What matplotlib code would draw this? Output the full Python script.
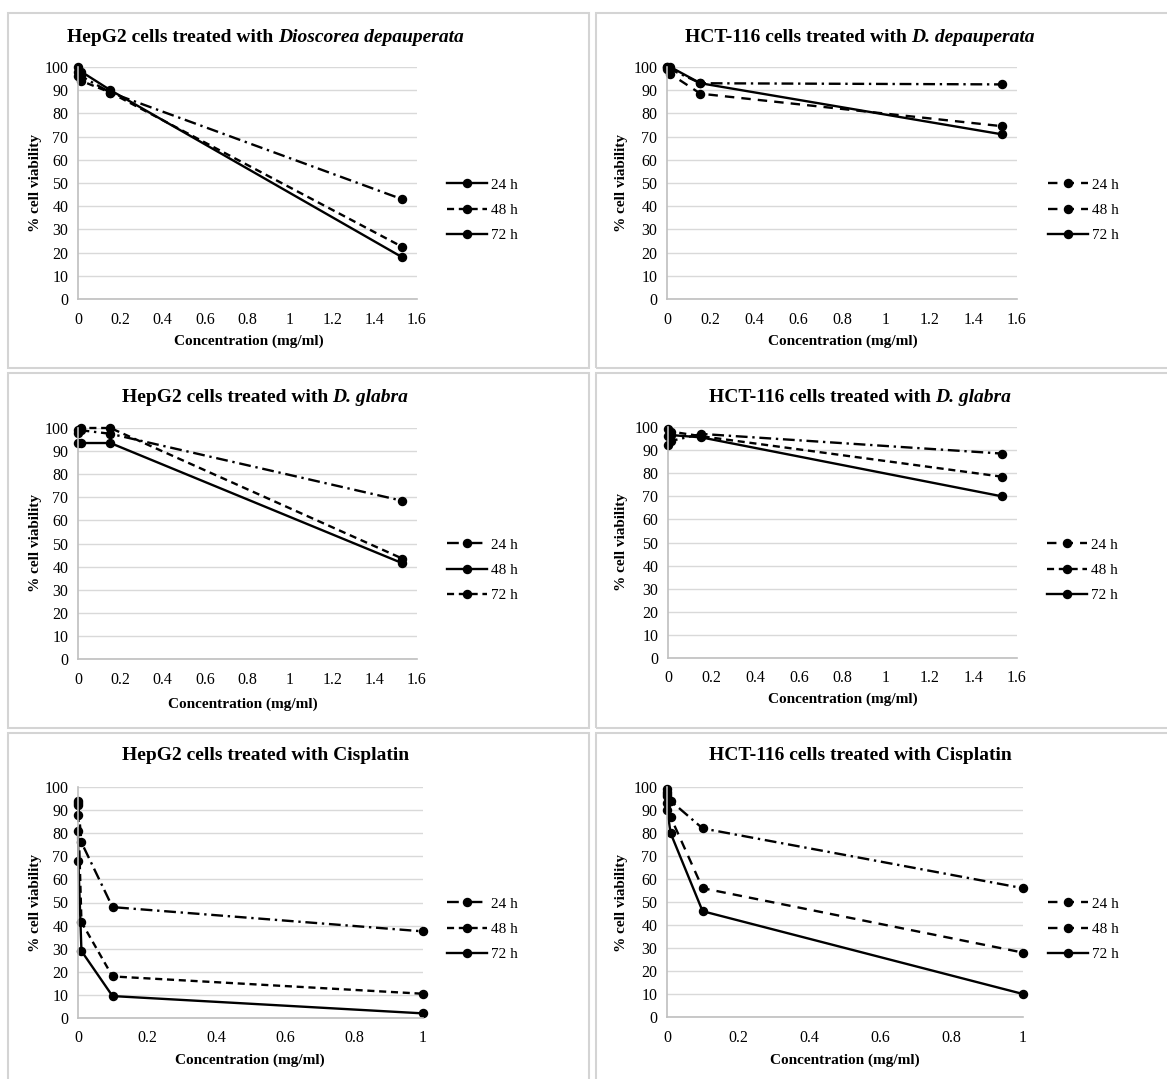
import matplotlib
matplotlib.use("Agg")
import matplotlib.pyplot as plt
from matplotlib.lines import Line2D
from matplotlib.patches import Rectangle
from matplotlib.ticker import FuncFormatter, MultipleLocator

plt.rcParams['font.family'] = 'Liberation Serif'

W, H = 1167, 1079

# concentrations (mg/ml)
x_plant = [0.00153, 0.0153, 0.153, 1.53]
x_cis = [0.0001, 0.001, 0.01, 0.1, 1]

# HepG2 / D. depauperata
hepg2_dd_24 = [98, 96, 89, 43]
hepg2_dd_48 = [96, 94, 89, 22.5]
hepg2_dd_72 = [100, 98, 90, 18]
# HCT-116 / D. depauperata
hct_dd_24 = [100, 99, 93, 92.5]
hct_dd_48 = [99, 97, 88.5, 74.5]
hct_dd_72 = [100, 100, 93, 71]
# HepG2 / D. glabra
hepg2_dg_24 = [98, 99, 97.5, 68.5]
hepg2_dg_48 = [93.5, 93.5, 93.5, 41.5]
hepg2_dg_72 = [99, 100, 100, 43.5]
# HCT-116 / D. glabra
hct_dg_24 = [92, 94, 97, 88.5]
hct_dg_48 = [99, 98, 96, 78.5]
hct_dg_72 = [96, 96.5, 95.5, 70]
# HepG2 / Cisplatin
hepg2_cis_24 = [94, 92, 76, 48, 37.5]
hepg2_cis_48 = [93, 88, 41.5, 18, 10.5]
hepg2_cis_72 = [81, 68, 29, 9.5, 2]
# HCT-116 / Cisplatin
hct_cis_24 = [99, 96, 94, 82, 56]
hct_cis_48 = [97, 93, 87, 56, 28]
hct_cis_72 = [98, 90, 80, 46, 10]

labels = ['24 h', '48 h', '72 h']

DD = (0, (5, 2, 1, 2))      # long dash dot
DS = (0, (3, 2))            # dash
LD = (0, (4, 3))            # long dash
SL = '-'

fig = plt.figure(figsize=(W / 100, H / 100), dpi=100)
renderer = fig.canvas.get_renderer()


def px(x, y):
    return x / W, 1 - y / H


def box(x0, y0, x1, y1):
    fig.patches.append(Rectangle(px(x0, y1), (x1 - x0) / W, (y1 - y0) / H,
                                 transform=fig.transFigure, fill=False,
                                 edgecolor='#d4d4d4', lw=1.5))


def title_text(cx, cy, plain, italic):
    # bold part + bold italic part, centred together
    kw = dict(fontsize=14, fontweight='bold', va='center', ha='left')
    t1 = fig.text(0, 0, plain, **kw)
    w1 = t1.get_window_extent(renderer).width
    w2 = 0
    if italic:
        t2 = fig.text(0, 0, italic, style='italic', **kw)
        w2 = t2.get_window_extent(renderer).width
    x0 = cx - (w1 + w2) / 2
    t1.set_position(px(x0, cy))
    if italic:
        t2.set_position(px(x0 + w1, cy))


def panel(rect, tparts, xs, series, styles, leg_styles, xmax, xstep,
          tpos, ypos, xpos, lpos):
    l, r, t, b = rect
    ax = fig.add_axes([l / W, 1 - b / H, (r - l) / W, (b - t) / H])
    for ys, st in zip(series, styles):
        ax.plot(xs, ys, color='black', lw=1.7, linestyle=st, marker='o',
                markersize=5.8, clip_on=False)
    ax.set_xlim(0, xmax)
    ax.set_ylim(0, 100)
    ax.xaxis.set_major_locator(MultipleLocator(xstep))
    ax.yaxis.set_major_locator(MultipleLocator(10))
    ax.xaxis.set_major_formatter(FuncFormatter(lambda v, p: f"{round(v, 2):g}"))
    ax.grid(axis='y', color='#d9d9d9', lw=1)
    ax.set_axisbelow(True)
    for s in ['top', 'right']:
        ax.spines[s].set_visible(False)
    for s in ['left', 'bottom']:
        ax.spines[s].set_color('#bfbfbf')
        ax.spines[s].set_linewidth(1.2)
    ax.tick_params(length=0, labelsize=11.5, pad=7)
    ax.tick_params(axis='x', pad=9)
    title_text(tpos[0], tpos[1], *tparts)
    fig.text(*px(*ypos), '% cell viability', ha='center', va='center',
             rotation=90, fontsize=11, fontweight='bold')
    fig.text(*px(*xpos), 'Concentration (mg/ml)', ha='center', va='center',
             fontsize=11, fontweight='bold')
    handles = [Line2D([], [], color='black', lw=1.7, linestyle=st, marker='o',
                      markersize=5.8) for st in leg_styles]
    fig.legend(handles, labels, loc='center left', bbox_to_anchor=px(*lpos),
               frameon=False, fontsize=11, handlelength=2.6,
               handletextpad=0.3, labelspacing=0.75, borderpad=0,
               borderaxespad=0)
    return ax


box(8, 13, 589, 368)
box(596, 13, 1180, 368)
box(8, 373, 589, 728)
box(596, 373, 1180, 728)
box(8, 733, 589, 1090)
box(596, 733, 1180, 1090)

panel((78, 417, 67, 299),
      ("HepG2 cells treated with ", "Dioscorea depauperata"),
      x_plant, [hepg2_dd_24, hepg2_dd_48, hepg2_dd_72], [DD, DS, SL],
      [SL, DS, SL], 1.6, 0.2, (265, 37), (35, 183), (249, 341), (447, 210))
panel((667, 1017, 67, 299),
      ("HCT-116 cells treated with ", "D. depauperata"),
      x_plant, [hct_dd_24, hct_dd_48, hct_dd_72], [DD, LD, SL],
      [LD, LD, SL], 1.6, 0.2, (860, 37), (622, 183), (843, 341), (1048, 210))
panel((78, 417, 428, 659),
      ("HepG2 cells treated with ", "D. glabra"),
      x_plant, [hepg2_dg_24, hepg2_dg_48, hepg2_dg_72], [DD, SL, DS],
      [DD, SL, DS], 1.6, 0.2, (265, 398), (35, 543), (243, 704), (447, 570))
panel((668, 1017, 427, 658),
      ("HCT-116 cells treated with ", "D. glabra"),
      x_plant, [hct_dg_24, hct_dg_48, hct_dg_72], [DD, DS, SL],
      [LD, DS, SL], 1.6, 0.2, (860, 397), (622, 542), (843, 699), (1047, 570))
panel((78, 423, 787, 1018),
      ("HepG2 cells treated with Cisplatin", ""),
      x_cis, [hepg2_cis_24, hepg2_cis_48, hepg2_cis_72], [DD, DS, SL],
      [DD, DS, SL], 1, 0.2, (266, 756), (35, 903), (250, 1060), (447, 929))
panel((667, 1023, 787, 1017),
      ("HCT-116 cells treated with Cisplatin", ""),
      x_cis, [hct_cis_24, hct_cis_48, hct_cis_72], [DD, LD, SL],
      [LD, LD, SL], 1, 0.2, (860, 756), (622, 903), (845, 1060), (1048, 929))

fig.savefig('out.png', dpi=100, facecolor='white')
